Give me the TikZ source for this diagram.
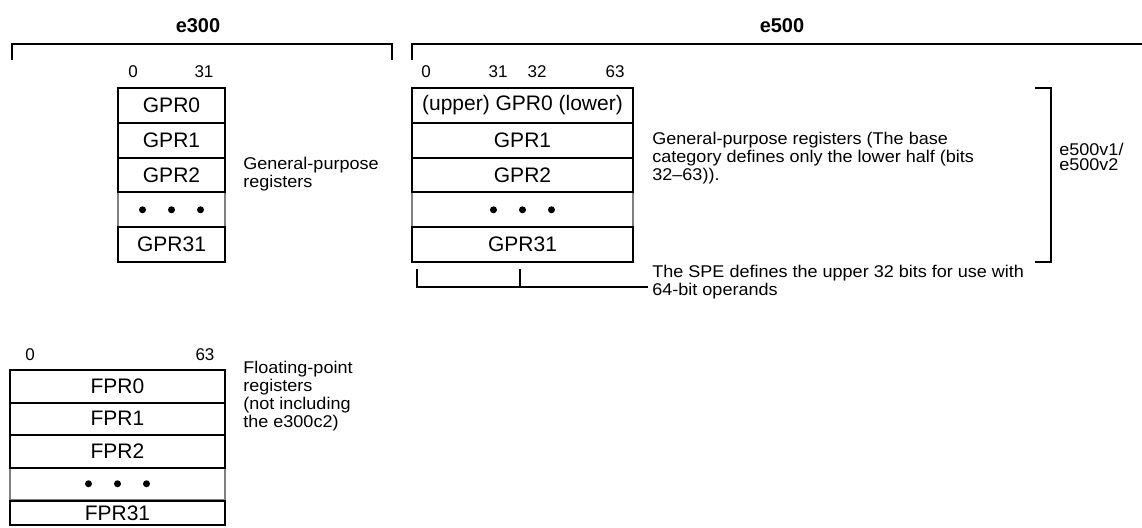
\documentclass[tikz,border=0pt]{standalone}
\usepackage{fontspec}
\setmainfont{Liberation Sans}
\newfontfamily\notefont[FakeStretch=1.06,Ligatures=TeX]{Liberation Sans}
\usetikzlibrary{positioning,calc}
\tikzset{
  reg/.style={draw,line width=1pt,inner sep=0pt,font=\fontsize{10.5}{12}\selectfont},
  dotsrow/.style={reg,draw=gray},
  note/.style={anchor=west,align=left,inner sep=0pt,font=\notefont\fontsize{8.5}{7.6}\selectfont},
  bit/.style={inner sep=0pt,font=\fontsize{8.5}{10}\selectfont},
  head/.style={inner sep=0pt,font=\bfseries\fontsize{10}{12}\selectfont},
  brk/.style={line width=1pt},
}
\begin{document}
\begin{tikzpicture}[x=0.5pt,y=-0.5pt]
\useasboundingbox (0,0) rectangle (1142,527);
\node[head] (t300) at (198,26) {e300};
\node[head] (t500) at (782,26) {e500};
\draw[brk] (12,60) -- (12,44) -- (392,44) -- (392,60);
\draw[brk] (412,60) -- (412,44) -- (1142,44);

\foreach \x/\n in {133/0,204/31}
  \node[bit] (a\n) at (\x,72) {\n};
\node[dotsrow,minimum width=53.5pt,minimum height=17.4pt] (gd) at (171.5,209.8) {};
\foreach \i/\t in {0/GPR0,1/GPR1,2/GPR2,4/GPR31}
  \node[reg,minimum width=53.5pt,minimum height=17.4pt] (g\i) at (171.5,{105.4+34.8*\i}) {\t};
\foreach \d in {-1,0,1}
  \fill ($(gd)+(29*\d,0)$) circle (3.5);
\node[note] (glab) at (243,174) {General-purpose\\registers};

\foreach \x/\n in {426/0,498/31,537/32,615/63}
  \node[bit] (b\n) at (\x,72) {\n};
\node[dotsrow,minimum width=110.5pt,minimum height=17.4pt] (hd) at (522.5,209.8) {};
\foreach \i/\t in {0/(upper) GPR0 (lower),1/GPR1,2/GPR2,4/GPR31}
  \node[reg,minimum width=110.5pt,minimum height=17.4pt] (h\i) at (522.5,{105.4+34.8*\i}) {\t};
\foreach \d in {-1,0,1}
  \fill ($(hd)+(29*\d,0)$) circle (3.5);
\node[note] (hlab) at (652,158) {General-purpose registers (The base\\category defines only the lower half (bits\\32--63)).};
\draw[brk] (1035,88) -- (1051,88) -- (1051,262) -- (1035,262);
\node[note] (vlab) at (1059,157) {e500v1/\\e500v2};
\node[note] (slab) at (652,282) {The SPE defines the upper 32 bits for use with\\64-bit operands};
\coordinate (send) at ($(slab.west)+(-4,5)$);
\draw[brk] (417,269) -- (417,287) -- (send);
\draw[brk] (520,269) -- (520,287);

\foreach \x/\n in {30/0,205/63}
  \node[bit] (f\n) at (\x,355) {\n};
\node[dotsrow,minimum width=107.5pt,minimum height=16.25pt] (fd) at (117.5,483.75) {};
\foreach \i/\t in {0/FPR0,1/FPR1,2/FPR2}
  \node[reg,minimum width=107.5pt,minimum height=16.25pt] (fr\i) at (117.5,{386.25+32.5*\i}) {\t};
\node[reg,minimum width=107.5pt,minimum height=12pt] (fr4) at (117.5,513) {FPR31};
\foreach \d in {-1,0,1}
  \fill ($(fd)+(29*\d,0)$) circle (3.5);
\node[note] (flab) at (243,396) {Floating-point\\registers\\(not including\\the e300c2)};
\end{tikzpicture}
\end{document}
